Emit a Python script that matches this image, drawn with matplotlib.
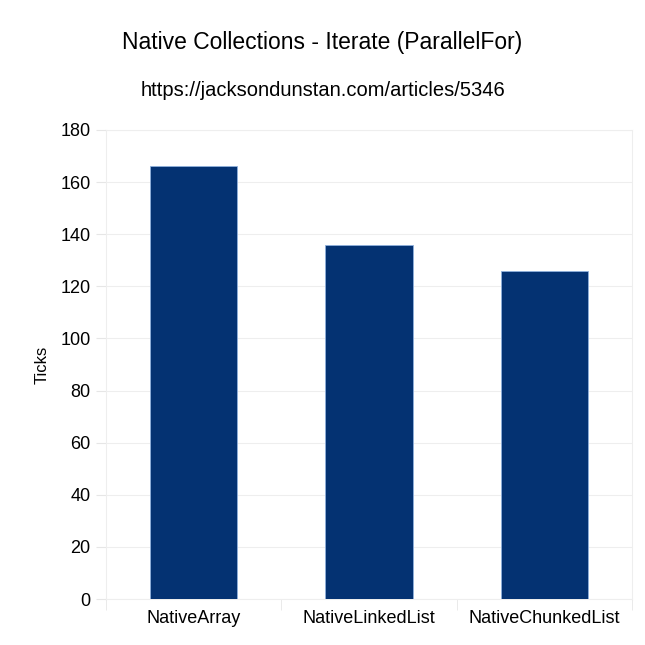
import matplotlib.pyplot as plt
import numpy as np

plt.rcParams['font.family'] = ['Liberation Sans', 'DejaVu Sans']

# Chart data
categories = ['NativeArray', 'NativeLinkedList', 'NativeChunkedList']
ticks = [166, 136, 126]
y_ticks = [0, 20, 40, 60, 80, 100, 120, 140, 160, 180]

fig = plt.figure(figsize=(6.45, 6.45), dpi=100)
ax = fig.add_axes([106 / 645, 1 - 599 / 645, 526 / 645, 469 / 645])

x = np.arange(len(categories))
ax.bar(x, ticks, width=0.5, color='#043272', edgecolor='#8fb0dd', linewidth=0.6, zorder=3)

ax.set_xlim(-0.5, len(categories) - 0.5)
ax.set_ylim(0, 180)
ax.set_yticks(y_ticks)
ax.set_yticklabels([str(v) for v in y_ticks], fontsize=13)

# category labels centred, tick marks at category borders
ax.set_xticks(x)
ax.set_xticklabels(categories, fontsize=13)
ax.set_xticks(np.arange(-0.5, len(categories)), minor=True)
ax.tick_params(axis='x', which='major', length=0, pad=8)
ax.tick_params(axis='x', which='minor', length=8, color='#e6e6e6')
ax.tick_params(axis='y', length=7, color='#e6e6e6', pad=4)

ax.grid(axis='y', color='#eeeeee', linewidth=0.8, zorder=0)
for s in ['top', 'bottom', 'left', 'right']:
    ax.spines[s].set_color('#eeeeee')
    ax.spines[s].set_linewidth(0.8)

ax.set_ylabel('Ticks', fontsize=12, labelpad=8)

fig.text(0.5, 1 - 42 / 645, 'Native Collections - Iterate (ParallelFor)', ha='center', va='center', fontsize=16.5)
fig.text(0.5, 1 - 90 / 645, 'https://jacksondunstan.com/articles/5346', ha='center', va='center', fontsize=14.5)

fig.savefig('out.png', dpi=100)
